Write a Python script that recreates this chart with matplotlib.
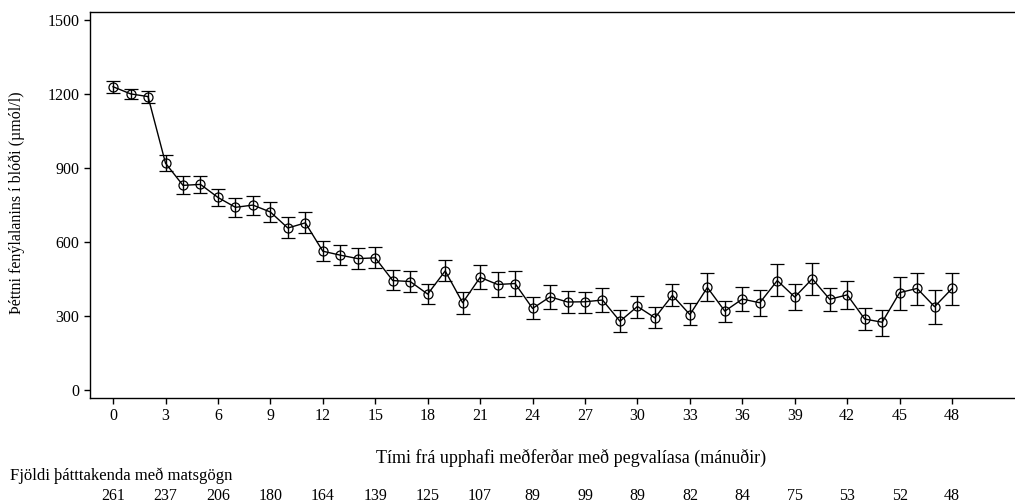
import matplotlib
matplotlib.use("Agg")
import matplotlib.pyplot as plt
import matplotlib.transforms as mtransforms

# Months since start of treatment
months = list(range(49))
# Mean blood phenylalanine (umol/l)
mean_phe = [1229, 1200, 1189, 919, 829, 833, 780, 740, 749, 721, 656, 677,
            562, 546, 532, 535, 443, 439, 388, 482, 353, 456, 427, 431,
            330, 377, 356, 357, 364, 278, 338, 292, 383, 305, 415, 319,
            368, 353, 443, 376, 450, 367, 385, 287, 274, 394, 411, 337, 411]
# Upper and lower ends of the error bars
upper = [1253, 1221, 1213, 953, 865, 868, 815, 776, 787, 760, 700, 721,
         604, 588, 577, 578, 485, 482, 431, 527, 397, 507, 477, 482,
         376, 427, 400, 397, 412, 322, 381, 337, 429, 351, 472, 361,
         418, 403, 511, 429, 516, 412, 443, 330, 325, 456, 473, 403, 474]
lower = [1204, 1178, 1162, 886, 794, 798, 744, 702, 710, 682, 615, 634,
         522, 505, 488, 492, 404, 395, 346, 441, 306, 407, 375, 380,
         286, 326, 310, 313, 317, 233, 291, 249, 338, 262, 361, 274,
         319, 300, 379, 322, 385, 318, 326, 243, 220, 323, 345, 268, 345]

tick_months = list(range(0, 49, 3))
n_participants = [261, 237, 206, 180, 164, 139, 125, 107, 89, 99, 89, 82,
                  84, 75, 53, 52, 48]

plt.rcParams["font.family"] = ["Liberation Serif", "DejaVu Serif"]

W, H = 1015, 504
fig = plt.figure(figsize=(W / 100, H / 100), dpi=100)
ax = fig.add_axes([90 / W, 1 - 397.7 / H, 1 - 90 / W, (397.7 - 12) / H])

yerr = [[m - lo for m, lo in zip(mean_phe, lower)],
        [hi - m for m, hi in zip(mean_phe, upper)]]
ax.errorbar(months, mean_phe, yerr=yerr, fmt="-o", color="black",
            mfc="none", mec="black", ms=6.5, mew=0.9, lw=1.0,
            elinewidth=1.0, capsize=4.8, capthick=1.0)

ax.set_xlim(-1.32, 51.6)
ax.set_ylim(-32, 1532)
ax.set_xticks(tick_months)
ax.set_yticks([0, 300, 600, 900, 1200, 1500])
ax.tick_params(direction="out", length=4.5, width=1, labelsize=11.5, pad=3)
ax.spines["right"].set_visible(False)
for s in ("left", "bottom", "top"):
    ax.spines[s].set_linewidth(1.0)

fig.text(17 / W, 1 - 203 / H, "Þéttni fenýlalanins í blóði (µmól/l)",
         fontsize=11.5, rotation=90, ha="center", va="center")
fig.text(571 / W, 1 - 458 / H,
         "Tími frá upphafi meðferðar með pegvalíasa (mánuðir)",
         fontsize=13, ha="center", va="center")

# Participant counts under the axis
trans = mtransforms.blended_transform_factory(ax.transData, fig.transFigure)
fig.text(10 / W, 1 - 476 / H, "Fjöldi þátttakenda með matsgögn",
         fontsize=12, ha="left", va="center")
for m, n in zip(tick_months, n_participants):
    ax.text(m, 1 - 496 / H, str(n), transform=trans, fontsize=11.5,
            ha="center", va="center", clip_on=False)

fig.savefig("out.png", dpi=100)
